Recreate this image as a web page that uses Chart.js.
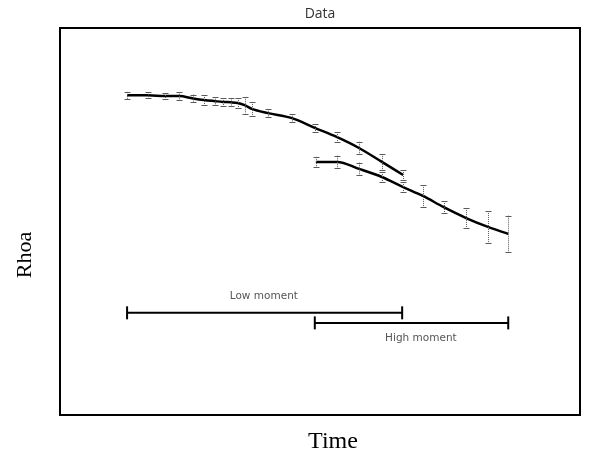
<!DOCTYPE html>
<html>
<head>
<meta charset="utf-8">
<script src="https://cdn.jsdelivr.net/npm/chart.js@4.4.1/dist/chart.umd.min.js"></script>
<style>
html,body{margin:0;padding:0;background:#fff;}
#wrap{width:597px;height:457px;}
</style>
</head>
<body>
<div id="wrap"><canvas id="c" width="597" height="457"></canvas></div>
<script>
// Low moment curve
const lowX   = [12.9,16.9,20.2,22.9,25.6,27.7,29.8,31.3,32.9,34.2,35.6,36.9,40.0,44.6,49.0,53.3,57.5,61.9,66.0];
const lowY   = [82.6,82.6,82.4,82.4,81.8,81.4,81.1,80.9,80.8,80.6,80.0,79.1,78.0,76.7,74.2,71.8,69.0,65.4,62.0];
const lowErr = [0.9,0.8,0.8,1.0,1.0,1.3,1.0,1.0,1.0,1.3,2.1,1.8,1.0,1.0,1.0,1.3,1.6,2.0,1.3];
// High moment curve
const highX   = [49.2,53.3,57.5,61.9,66.0,69.8,73.8,78.1,82.3,86.2];
const highY   = [65.4,65.4,63.6,61.5,58.9,56.6,53.7,50.9,48.6,46.8];
const highErr = [1.3,1.6,1.6,1.3,1.3,2.8,1.6,2.6,4.1,4.7];
// Range bars
const rangeNames = ["Low moment","High moment"];
const rangeStart = [12.9,49.0];
const rangeEnd   = [65.8,86.2];
const rangeY     = [26.4,23.8];
const rangeLabelX = [39.2,69.4];
const rangeLabelY = [30.7,19.9];
// Texts
const titleText = "Data";
const xTitle = "Time";
const yTitle = "Rhoa";

const pts = (xs, ys) => xs.map((x,i)=>({x:x,y:ys[i]}));

const decorations = {
  id:'decorations',
  afterDatasetsDraw(chart){
    const ctx = chart.ctx, xs = chart.scales.x, ys = chart.scales.y;
    const a = chart.chartArea;
    ctx.save();
    ctx.strokeStyle = '#5a5a5a';
    ctx.lineWidth = 1;
    [[lowX,lowY,lowErr],[highX,highY,highErr]].forEach(([X,Y,E])=>{
      X.forEach((x,i)=>{
        const px = Math.round(xs.getPixelForValue(x))+0.5;
        const y1 = ys.getPixelForValue(Y[i]+E[i]);
        const y2 = ys.getPixelForValue(Y[i]-E[i]);
        ctx.beginPath();
        ctx.setLineDash([1,1]);
        ctx.moveTo(px,y1); ctx.lineTo(px,y2);
        ctx.stroke();
        ctx.setLineDash([]);
        ctx.beginPath();
        ctx.moveTo(px-3,Math.round(y1)+0.5); ctx.lineTo(px+3,Math.round(y1)+0.5);
        ctx.moveTo(px-3,Math.round(y2)+0.5); ctx.lineTo(px+3,Math.round(y2)+0.5);
        ctx.stroke();
      });
    });
    // range labels
    ctx.fillStyle = '#555';
    ctx.font = '10.5px "DejaVu Sans"';
    ctx.textAlign = 'center';
    ctx.textBaseline = 'middle';
    rangeNames.forEach((n,i)=>{
      ctx.fillText(n, xs.getPixelForValue(rangeLabelX[i]), ys.getPixelForValue(rangeLabelY[i]));
    });
    // frame
    ctx.strokeStyle = '#000';
    ctx.lineWidth = 2;
    ctx.strokeRect(a.left, a.top, a.right-a.left, a.bottom-a.top);
    // title and axis titles
    ctx.fillStyle = '#333';
    ctx.font = '14px "Open Sans"';
    ctx.fillText(titleText, (a.left+a.right)/2, 14);
    ctx.fillStyle = '#000';
    ctx.font = '24px "Liberation Serif"';
    ctx.fillText(xTitle, 333, 442);
    ctx.translate(25, 255);
    ctx.rotate(-Math.PI/2);
    ctx.font = '22px "Liberation Serif"';
    ctx.fillText(yTitle, 0, 0);
    ctx.restore();
  }
};

const rangeSets = rangeNames.map((n,i)=>({
  label:n,
  data:[{x:rangeStart[i],y:rangeY[i]},{x:rangeEnd[i],y:rangeY[i]}],
  borderColor:'#000', borderWidth:2,
  pointStyle:'line', pointRotation:90, pointRadius:6.5, pointBorderWidth:2,
  pointBorderColor:'#000', showLine:true, tension:0
}));

new Chart(document.getElementById('c'), {
  type:'scatter',
  data:{datasets:[
    {label:'Low', data:pts(lowX,lowY), showLine:true, borderColor:'#000', borderWidth:2.5, pointRadius:0, tension:0.4, cubicInterpolationMode:'monotone'},
    {label:'High', data:pts(highX,highY), showLine:true, borderColor:'#000', borderWidth:2.5, pointRadius:0, tension:0.4, cubicInterpolationMode:'monotone'},
    ...rangeSets
  ]},
  options:{
    responsive:false, animation:false, devicePixelRatio:1,
    layout:{padding:{left:60,right:17,top:28,bottom:42}},
    plugins:{ legend:{display:false}, tooltip:{enabled:false}, title:{display:false} },
    scales:{
      x:{type:'linear', min:0, max:100, display:false},
      y:{type:'linear', min:0, max:100, display:false}
    }
  },
  plugins:[decorations]
});
</script>
</body>
</html>
